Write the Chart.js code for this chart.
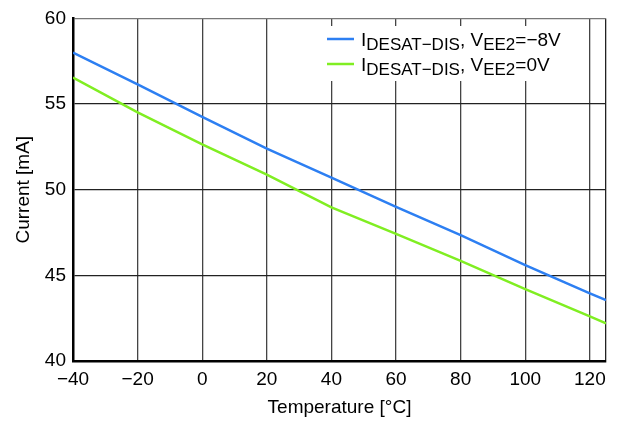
<!DOCTYPE html>
<html>
<head>
<meta charset="utf-8">
<script src="https://cdn.jsdelivr.net/npm/chart.js@4/dist/chart.umd.min.js"></script>
<style>
  html, body { margin: 0; padding: 0; background: #fff; }
  #wrap { width: 620px; height: 423px; }
</style>
</head>
<body>
<div id="wrap"><canvas id="c" width="620" height="423"></canvas></div>
<script>
// ---- data ----
const temperatures = [-40, -20, 0, 20, 40, 60, 80, 100, 120, 125];
const currentVee2Minus8 = [58.0, 56.15, 54.25, 52.4, 50.7, 49.0, 47.35, 45.6, 43.95, 43.55];
const currentVee2Zero = [56.55, 54.52, 52.65, 50.88, 48.97, 47.42, 45.84, 44.2, 42.61, 42.2];
const xTickValues = [-40, -20, 0, 20, 40, 60, 80, 100, 120, 125];
const yTickValues = [40, 45, 50, 55, 60];
const xTitle = 'Temperature [°C]';
const yTitle = 'Current [mA]';
// legend pieces: [text, isSubscript]
const legendBlue = [['I', false], ['DESAT−DIS', true], [', V', false], ['EE2', true], ['=−8V', false]];
const legendGreen = [['I', false], ['DESAT−DIS', true], [', V', false], ['EE2', true], ['=0V', false]];

const BLUE = '#2d7ff2';
const GREEN = '#80ee22';
const FONT = '"Liberation Sans", Arial, Helvetica, sans-serif';

function pts(xs, ys) { return xs.map((x, i) => ({ x: x, y: ys[i] })); }

const legendPlugin = {
  id: 'subLegend',
  afterDraw(chart) {
    const ctx = chart.ctx;
    ctx.save();
    ctx.fillStyle = '#fff';
    ctx.fillRect(321, 26, 262, 55);
    const rows = [[legendBlue, BLUE, 39], [legendGreen, GREEN, 64]];
    rows.forEach(([pieces, color, y]) => {
      ctx.strokeStyle = color;
      ctx.lineWidth = 2.5;
      ctx.beginPath();
      ctx.moveTo(327, y);
      ctx.lineTo(354, y);
      ctx.stroke();
      let x = 361;
      ctx.fillStyle = '#000';
      ctx.textBaseline = 'alphabetic';
      ctx.textAlign = 'left';
      pieces.forEach(([t, sub]) => {
        ctx.font = (sub ? '17px ' : '19px ') + FONT;
        ctx.fillText(t, x, y + 7 + (sub ? 4 : 0));
        x += ctx.measureText(t).width;
      });
    });
    ctx.restore();
  }
};

new Chart(document.getElementById('c'), {
  type: 'line',
  data: {
    datasets: [
      { data: pts(temperatures, currentVee2Minus8), borderColor: BLUE, borderWidth: 2.5, pointRadius: 0, tension: 0 },
      { data: pts(temperatures, currentVee2Zero), borderColor: GREEN, borderWidth: 2.5, pointRadius: 0, tension: 0 }
    ]
  },
  options: {
    responsive: false,
    devicePixelRatio: 1,
    animation: false,
    layout: { padding: { top: 12, right: 14, left: 0, bottom: 0 } },
    plugins: { legend: { display: false }, tooltip: { enabled: false } },
    scales: {
      x: {
        type: 'linear',
        min: -40, max: 125,
        afterBuildTicks: s => { s.ticks = xTickValues.map(v => ({ value: v })); },
        afterFit: s => { s.height = 62; },
        ticks: {
          font: { family: FONT, size: 19 }, color: '#000', padding: 7, maxRotation: 0,
          autoSkip: false,
          callback: v => (v === 125 ? '' : (v < 0 ? '−' + Math.abs(v) : String(v)))
        },
        grid: {
          drawTicks: false, lineWidth: 1.3,
          color: c => (c.tick && c.tick.value === -40 ? 'rgba(0,0,0,0)' : (c.tick && c.tick.value === 125 ? '#222' : '#444'))
        },
        border: { color: '#000', width: 2.5 },
        title: { display: true, text: xTitle, font: { family: FONT, size: 19 }, color: '#000', padding: { top: 0, bottom: 4 } }
      },
      y: {
        min: 40, max: 60,
        afterBuildTicks: s => { s.ticks = yTickValues.map(v => ({ value: v })); },
        afterFit: s => { s.width = 73; },
        ticks: { font: { family: FONT, size: 19 }, color: '#000', padding: 7 },
        grid: {
          drawTicks: false, lineWidth: 1.2,
          color: c => (c.tick && c.tick.value === 40 ? 'rgba(0,0,0,0)' : (c.tick && c.tick.value === 60 ? '#777' : '#222'))
        },
        border: { color: '#000', width: 2.5 },
        title: { display: true, text: yTitle, font: { family: FONT, size: 19 }, color: '#000', padding: { top: 12, bottom: 0 } }
      }
    }
  },
  plugins: [legendPlugin]
});
</script>
</body>
</html>
